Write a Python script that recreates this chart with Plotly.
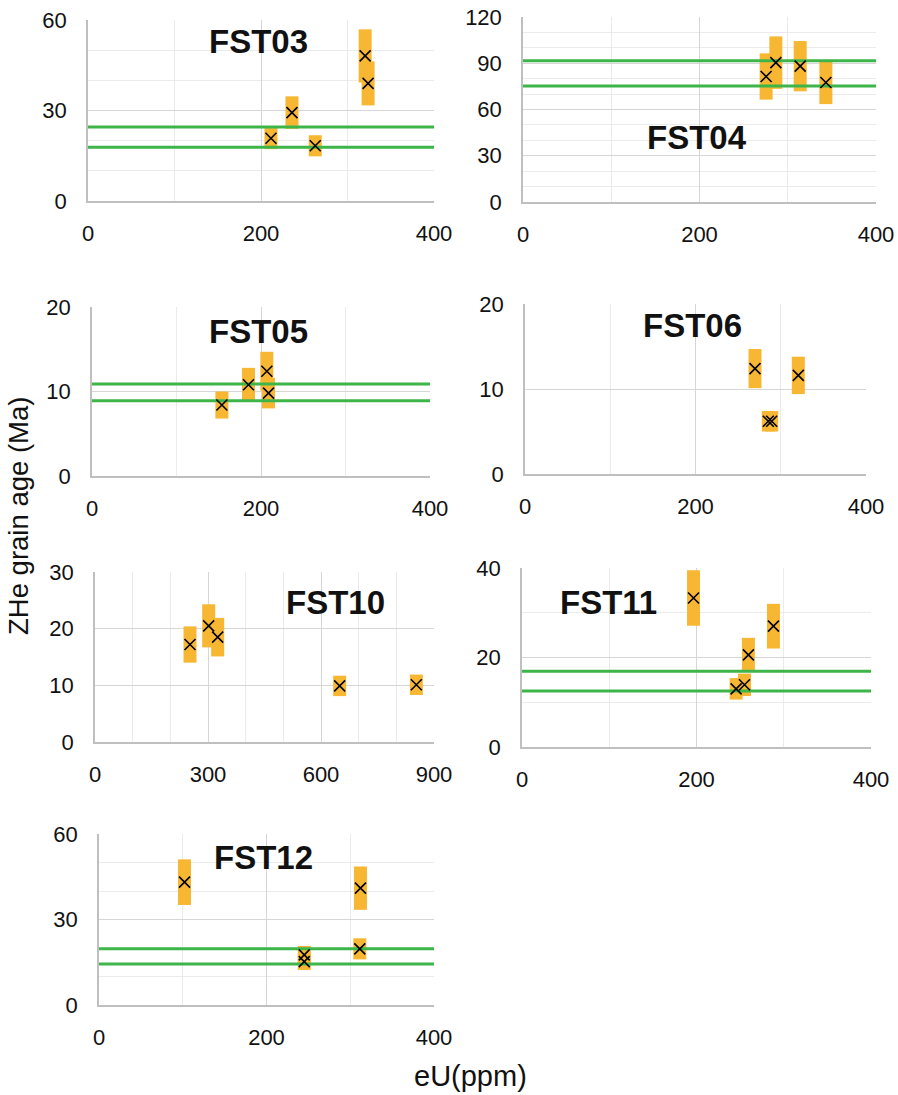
import plotly.graph_objects as go

W, H = 898, 1095

# ---------------- data ----------------
names = ["FST03", "FST04", "FST05", "FST06", "FST10", "FST11", "FST12"]

fst03_eu = [211.5, 235.8, 262.7, 320.4, 323.8]
fst03_age = [20.8, 29.3, 18.3, 48.1, 39.0]
fst03_err = [3.6, 5.4, 3.5, 8.8, 7.3]
fst03_band = [24.5, 17.8]

fst04_eu = [275.5, 286.5, 314.1, 343.2]
fst04_age = [81.4, 90.4, 88.1, 77.5]
fst04_err = [15.0, 17.0, 16.3, 14.0]
fst04_band = [91.7, 75.3]

fst05_eu = [153.7, 185.2, 206.9, 208.9]
fst05_age = [8.4, 10.8, 12.4, 9.8]
fst05_err = [1.6, 2.0, 2.3, 1.8]
fst05_band = [10.9, 8.9]

fst06_eu = [269.8, 285.4, 289.4, 320.6]
fst06_age = [12.4, 6.2, 6.2, 11.6]
fst06_err = [2.3, 1.2, 1.2, 2.2]
fst06_band = []

fst10_eu = [252.2, 301.8, 325.7, 649.6, 853.1]
fst10_age = [17.2, 20.5, 18.5, 9.9, 10.1]
fst10_err = [3.2, 3.8, 3.4, 1.8, 1.8]
fst10_band = []

fst11_eu = [196.6, 245.4, 255.0, 259.5, 288.2]
fst11_age = [33.3, 13.0, 13.9, 20.6, 27.0]
fst11_err = [6.2, 2.4, 2.5, 3.8, 5.0]
fst11_band = [16.9, 12.5]

fst12_eu = [102.1, 245.1, 245.1, 311.4, 312.2]
fst12_age = [43.1, 17.6, 15.2, 19.7, 41.0]
fst12_err = [8.0, 3.1, 2.9, 3.7, 7.6]
fst12_band = [19.7, 14.4]

x_ranges = [[0, 400], [0, 400], [0, 400], [0, 400], [0, 900], [0, 400], [0, 400]]
x_dticks = [200, 200, 200, 200, 300, 200, 200]
x_minor = [100, 100, 100, 100, 100, 100, 100]
y_ranges = [[0, 60], [0, 120], [0, 20], [0, 20], [0, 30], [0, 40], [0, 60]]
y_dticks = [30, 30, 10, 10, 10, 20, 30]
y_minor = [10, 10, None, None, None, 10, 10]

y_title = "ZHe grain age (Ma)"
x_title = "eU(ppm)"

series = [
    (fst03_eu, fst03_age, fst03_err, fst03_band),
    (fst04_eu, fst04_age, fst04_err, fst04_band),
    (fst05_eu, fst05_age, fst05_err, fst05_band),
    (fst06_eu, fst06_age, fst06_err, fst06_band),
    (fst10_eu, fst10_age, fst10_err, fst10_band),
    (fst11_eu, fst11_age, fst11_err, fst11_band),
    (fst12_eu, fst12_age, fst12_err, fst12_band),
]

# ---------------- layout (pixel boxes: left, right, top, bottom) ----------------
boxes = [
    (88, 434, 20, 201),
    (523, 876, 17, 202),
    (92, 430, 307, 476),
    (525, 866, 304, 474),
    (95, 434, 572, 742),
    (522, 871, 568, 747),
    (99, 434, 834, 1005),
]
# title centres in pixels
title_pos = [(258, 42), (697, 137), (258, 332), (692, 326), (335, 602), (608, 602), (263, 857)]

ORANGE = "#F7B733"
GREEN = "#3DB549"
TICKFONT = dict(family="Liberation Sans, Arial, sans-serif", size=22, color="#111111")

fig = go.Figure()
layout = dict(
    template="none",
    width=W, height=H,
    margin=dict(l=0, r=0, t=0, b=0, pad=0, autoexpand=False),
    paper_bgcolor="white", plot_bgcolor="white",
    showlegend=False,
    annotations=[],
)

for i, (eu, age, err, band) in enumerate(series):
    n = "" if i == 0 else str(i + 1)
    xa, ya = "x" + n, "y" + n
    # thick error bars
    fig.add_trace(go.Scatter(
        x=eu, y=age, xaxis=xa, yaxis=ya, mode="markers",
        marker=dict(size=1, opacity=0),
        error_y=dict(type="data", array=err, symmetric=True, color=ORANGE,
                     thickness=13, width=0),
        hoverinfo="skip",
    ))
    # green bands
    for b in band:
        fig.add_trace(go.Scatter(
            x=x_ranges[i], y=[b, b], xaxis=xa, yaxis=ya, mode="lines",
            line=dict(color=GREEN, width=3), hoverinfo="skip",
        ))
    # x markers
    fig.add_trace(go.Scatter(
        x=eu, y=age, xaxis=xa, yaxis=ya, mode="markers",
        marker=dict(symbol="x-thin", size=11, line=dict(color="black", width=1.6), color="black"),
    ))

    l, r, t, b_ = boxes[i]
    xdom = [l / W, r / W]
    ydom = [1 - b_ / H, 1 - t / H]
    layout["xaxis" + n] = dict(
        domain=xdom, anchor=ya, range=x_ranges[i], dtick=x_dticks[i], tick0=0,
        showgrid=True, gridcolor="#d6d6d6", gridwidth=1,
        minor=dict(dtick=x_minor[i], tick0=0, showgrid=True, gridcolor="#ebebeb", gridwidth=1),
        showline=True, linecolor="#bfbfbf", linewidth=1.5, zeroline=False,
        ticks="", tickfont=TICKFONT, ticklabelstandoff=12, fixedrange=True,
        automargin=False,
    )
    ydict = dict(
        domain=ydom, anchor=xa, range=y_ranges[i], dtick=y_dticks[i], tick0=0,
        showgrid=True, gridcolor="#d6d6d6", gridwidth=1,
        showline=True, linecolor="#bfbfbf", linewidth=1.5, zeroline=False,
        ticks="", tickfont=TICKFONT, ticklabelstandoff=15, fixedrange=True,
        automargin=False,
    )
    if y_minor[i]:
        ydict["minor"] = dict(dtick=y_minor[i], tick0=0, showgrid=True, gridcolor="#ebebeb", gridwidth=1)
    layout["yaxis" + n] = ydict

    cx, cy = title_pos[i]
    layout["annotations"].append(dict(
        text="<b>%s</b>" % names[i], x=cx / W, y=1 - cy / H, xref="paper", yref="paper",
        xanchor="center", yanchor="middle", showarrow=False,
        font=dict(family="Liberation Sans, Arial, sans-serif", size=33, color="#111111"),
    ))

layout["annotations"].append(dict(
    text=y_title, x=18 / W, y=1 - 516 / H, xref="paper", yref="paper",
    xanchor="center", yanchor="middle", showarrow=False, textangle=-90,
    font=dict(family="Liberation Sans, Arial, sans-serif", size=27.5, color="#111111"),
))
layout["annotations"].append(dict(
    text=x_title, x=470 / W, y=1 - 1076 / H, xref="paper", yref="paper",
    xanchor="center", yanchor="middle", showarrow=False,
    font=dict(family="Liberation Sans, Arial, sans-serif", size=29, color="#111111"),
))

fig.update_layout(**layout)
fig.write_html(
    "out.html",
    config={"displayModeBar": False},
    post_script="document.body.style.margin='0px';document.body.style.overflow='hidden';",
)
